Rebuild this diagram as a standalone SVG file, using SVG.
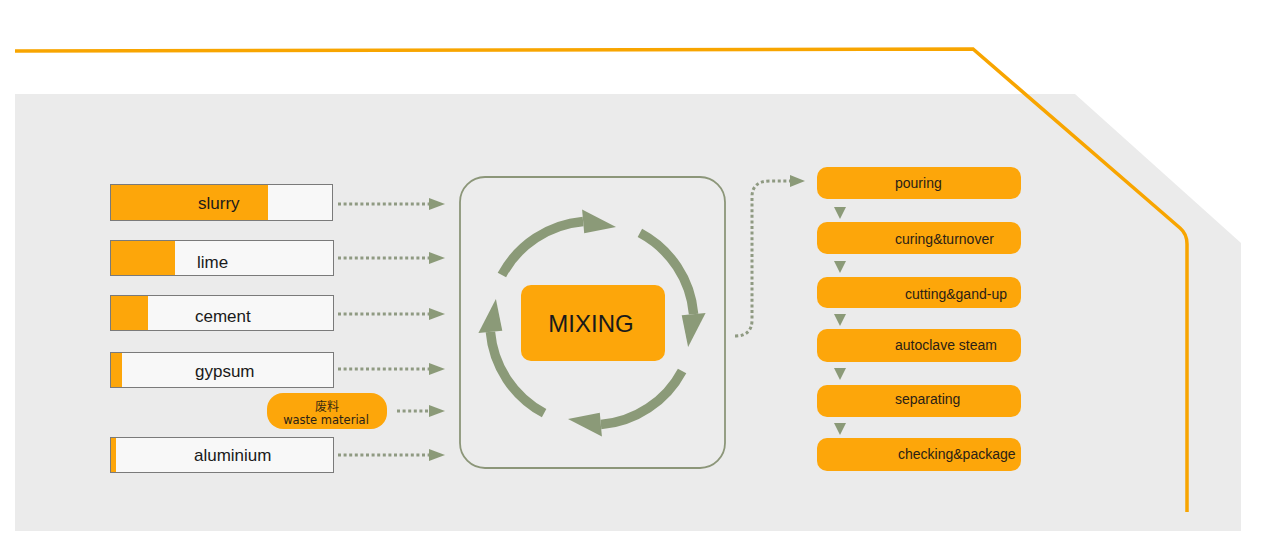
<svg xmlns="http://www.w3.org/2000/svg" width="1267" height="558" viewBox="0 0 1267 558">
<defs>
<style>
.bar{fill:#f8f8f8;stroke:#7a7a7a;stroke-width:1}
.fillo{fill:#fda60a}
.lbl{font-family:"Liberation Sans",Arial,sans-serif;font-size:17px;fill:#1a1a1a}
.step{fill:#fda60a}
.stxt{font-family:"Liberation Sans",Arial,sans-serif;font-size:14px;fill:#2a2116}
.dot{fill:none;stroke:#8f9a82;stroke-width:3;stroke-dasharray:3 2.6}
.ah{fill:#8b9a78}
.cyc{fill:none;stroke:#8b9a78;stroke-width:9.5}
</style>
<g id="cycArrow">
<path class="cyc" d="M 501.9 275.1 A 102 102 0 0 1 583.1 221.4"/>
<polygon class="ah" points="584.2,233.3 582.1,209.4 616,226.9"/>
</g>
</defs>
<rect x="0" y="0" width="1267" height="558" fill="#ffffff"/>
<polygon id="panel" points="15,94 1075,94 1241,243 1241,531 15,531" fill="#ebebeb"/>
<path id="frameline" d="M 15 51 L 973 49 L 1180 228 Q 1187 234 1187 244 L 1187 512" fill="none" stroke="#f8a500" stroke-width="3.5"/>

<g id="slurry">
<rect class="bar" x="110.5" y="184.5" width="222" height="36"/>
<rect class="fillo" x="111" y="185" width="157" height="35"/>
<text class="lbl" x="198" y="209">slurry</text>
</g>
<g id="lime">
<rect class="bar" x="110.5" y="240.5" width="223" height="35"/>
<rect class="fillo" x="111" y="241" width="64" height="34"/>
<text class="lbl" x="197" y="268">lime</text>
</g>
<g id="cement">
<rect class="bar" x="110.5" y="295.5" width="223" height="35"/>
<rect class="fillo" x="111" y="296" width="37" height="34"/>
<text class="lbl" x="195" y="322">cement</text>
</g>
<g id="gypsum">
<rect class="bar" x="110.5" y="352.5" width="223" height="35"/>
<rect class="fillo" x="111" y="353" width="11" height="34"/>
<text class="lbl" x="195" y="377">gypsum</text>
</g>
<g id="waste">
<rect x="267" y="393" width="120" height="36" rx="16" fill="#fda60a"/>
<text x="327" y="410.5" text-anchor="middle" font-family="'Noto Sans CJK SC',sans-serif" font-size="12" fill="#3a2a10">废料</text>
<text x="326" y="424" text-anchor="middle" font-family="'DejaVu Sans','Liberation Sans',sans-serif" font-size="11.5" fill="#2a2116">waste material</text>
</g>
<g id="aluminium">
<rect class="bar" x="110.5" y="437.5" width="223" height="35"/>
<rect class="fillo" x="111" y="438" width="5" height="34"/>
<text class="lbl" x="194" y="461">aluminium</text>
</g>

<g id="mixer">
<rect x="460" y="177" width="265" height="291" rx="25" fill="#ececec" stroke="#8c9679" stroke-width="1.8"/>
<use href="#cycArrow"/>
<use href="#cycArrow" transform="rotate(90 592 323)"/>
<use href="#cycArrow" transform="rotate(180 592 323)"/>
<use href="#cycArrow" transform="rotate(270 592 323)"/>
<rect x="521" y="285" width="144" height="76" rx="10" fill="#fda60a"/>
<text x="591" y="332" text-anchor="middle" font-family="'Liberation Sans',Arial,sans-serif" font-size="24" fill="#1a1a1a">MIXING</text>
</g>

<g id="pouring"><rect class="step" x="817" y="167" width="204" height="32" rx="10"/><text class="stxt" x="895" y="188">pouring</text></g>
<g id="curing"><rect class="step" x="817" y="222" width="204" height="32" rx="10"/><text class="stxt" x="895" y="244">curing&amp;turnover</text></g>
<g id="cutting"><rect class="step" x="817" y="277" width="204" height="31" rx="10"/><text class="stxt" x="905" y="299">cutting&amp;gand-up</text></g>
<g id="autoclave"><rect class="step" x="817" y="329" width="204" height="33" rx="10"/><text class="stxt" x="895" y="350">autoclave steam</text></g>
<g id="separating"><rect class="step" x="817" y="385" width="204" height="32" rx="10"/><text class="stxt" x="895" y="404">separating</text></g>
<g id="checking"><rect class="step" x="817" y="438" width="204" height="33" rx="10"/><text class="stxt" x="898" y="459">checking&amp;package</text></g>

<g id="connectors">
<path class="dot" d="M 338 204 L 430 204"/><polygon class="ah" points="429,198 445,204 429,210"/>
<path class="dot" d="M 338 258 L 430 258"/><polygon class="ah" points="429,252 445,258 429,264"/>
<path class="dot" d="M 338 314 L 430 314"/><polygon class="ah" points="429,308 445,314 429,320"/>
<path class="dot" d="M 338 369 L 430 369"/><polygon class="ah" points="429,363 445,369 429,375"/>
<path class="dot" d="M 397 411 L 430 411"/><polygon class="ah" points="429,405 445,411 429,417"/>
<path class="dot" d="M 338 455 L 430 455"/><polygon class="ah" points="429,449 445,455 429,461"/>
<path class="dot" d="M 735 336 Q 752 336 752 320 L 752 197 Q 752 181 770 181 L 790 181"/>
<polygon class="ah" points="790,175 805,181 790,187"/>
<polygon class="ah" points="834,207 846,207 840,219"/>
<polygon class="ah" points="834,261 846,261 840,273"/>
<polygon class="ah" points="834,314 846,314 840,326"/>
<polygon class="ah" points="834,368 846,368 840,380"/>
<polygon class="ah" points="834,423 846,423 840,435"/>
</g>
</svg>
